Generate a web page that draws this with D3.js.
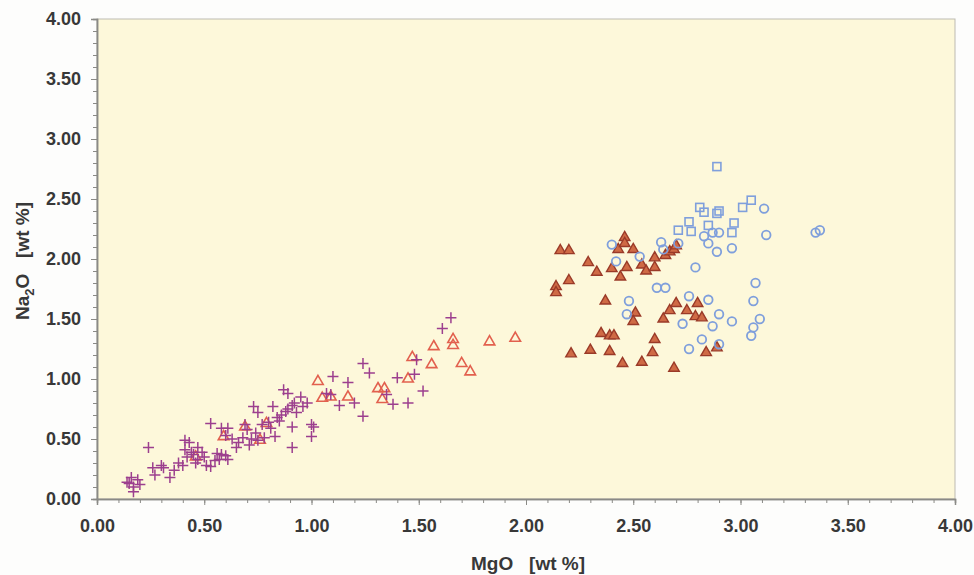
<!DOCTYPE html>
<html>
<head>
<meta charset="utf-8">
<script src="https://cdn.jsdelivr.net/npm/d3@7"></script>
<style>
  body { margin: 0; background: #fdfdfc; }
  svg { display: block; }
  text { font-family: "Liberation Sans", Arial, sans-serif; font-weight: bold; fill: #383838; white-space: pre; }
</style>
</head>
<body>
<div id="chart"></div>
<script>
// MgO / Na2O pairs [wt %]
var crosses = [
  [0.14,0.14],[0.17,0.10],[0.19,0.16],[0.16,0.18],[0.17,0.06],[0.20,0.12],[0.15,0.13],
  [0.24,0.43],[0.26,0.26],[0.27,0.20],[0.31,0.26],[0.34,0.18],[0.36,0.24],[0.40,0.28],
  [0.30,0.28],[0.38,0.30],[0.42,0.35],[0.44,0.39],[0.46,0.30],[0.50,0.35],
  [0.41,0.49],[0.41,0.41],[0.43,0.47],[0.45,0.37],[0.47,0.43],[0.47,0.33],[0.49,0.39],
  [0.51,0.28],[0.53,0.27],[0.53,0.63],[0.56,0.38],[0.57,0.33],[0.58,0.59],[0.60,0.53],
  [0.61,0.59],[0.61,0.33],[0.55,0.32],[0.58,0.37],[0.60,0.36],[0.63,0.50],[0.66,0.47],
  [0.65,0.43],[0.68,0.51],[0.69,0.62],[0.70,0.58],[0.71,0.45],[0.73,0.77],[0.75,0.72],
  [0.75,0.49],[0.78,0.51],[0.81,0.59],[0.82,0.77],[0.83,0.52],[0.84,0.68],[0.72,0.50],
  [0.74,0.55],[0.77,0.62],[0.80,0.64],[0.85,0.65],[0.86,0.70],[0.89,0.75],[0.92,0.80],
  [0.87,0.91],[0.88,0.73],[0.89,0.88],[0.91,0.78],[0.91,0.43],[0.91,0.60],[0.93,0.72],
  [0.95,0.85],[0.96,0.77],[0.98,0.80],[1.00,0.62],[1.00,0.52],[1.01,0.60],[1.07,0.88],
  [1.09,0.87],[1.10,1.02],[1.17,0.97],[1.24,1.13],[1.27,1.05],[1.20,0.80],[1.24,0.69],
  [1.13,0.78],[1.40,1.01],[1.48,1.04],[1.49,1.16],[1.52,0.90],[1.45,0.80],[1.35,0.87],
  [1.38,0.79],[1.65,1.51],[1.61,1.42]
];
var openTriangles = [
  [1.03,0.98],[1.09,0.85],[1.17,0.85],[0.79,0.63],[0.59,0.52],[0.76,0.49],[1.57,1.27],
  [1.66,1.33],[1.66,1.28],[1.83,1.31],[1.95,1.34],[1.47,1.18],[1.56,1.12],[1.70,1.13],
  [1.74,1.06],[1.45,1.00],[1.31,0.92],[1.34,0.92],[1.33,0.83],[1.05,0.84],[0.46,0.35],
  [0.69,0.60]
];
var filledTriangles = [
  [2.16,2.07],[2.20,2.07],[2.14,1.77],[2.14,1.72],[2.20,1.82],[2.29,1.97],[2.33,1.89],
  [2.37,1.65],[2.40,1.92],[2.43,2.08],[2.46,2.18],[2.46,2.13],[2.44,1.85],[2.47,1.93],
  [2.50,2.08],[2.54,1.95],[2.56,1.90],[2.60,2.01],[2.60,1.93],[2.65,2.03],[2.67,2.06],
  [2.69,2.08],[2.70,2.11],[2.35,1.38],[2.39,1.36],[2.41,1.36],[2.21,1.21],[2.30,1.24],
  [2.39,1.23],[2.45,1.13],[2.54,1.14],[2.59,1.22],[2.60,1.33],[2.69,1.09],[2.51,1.55],
  [2.50,1.48],[2.64,1.50],[2.67,1.57],[2.70,1.63],[2.75,1.57],[2.80,1.63],[2.79,1.52],
  [2.82,1.51],[2.84,1.22],[2.89,1.26]
];
var circles = [
  [2.40,2.12],[2.42,1.98],[2.53,2.02],[2.63,2.14],[2.64,2.08],[2.71,2.13],[2.79,1.93],
  [2.83,2.19],[2.85,2.13],[2.87,2.22],[2.90,2.22],[2.89,2.06],[2.96,2.09],[3.11,2.42],
  [3.12,2.20],[3.35,2.22],[3.37,2.24],[2.61,1.76],[2.65,1.76],[2.48,1.65],[2.47,1.54],
  [2.76,1.69],[2.85,1.66],[2.90,1.54],[2.73,1.46],[2.87,1.44],[2.96,1.48],[3.07,1.80],
  [3.06,1.65],[3.09,1.50],[3.06,1.43],[3.05,1.36],[2.82,1.33],[2.90,1.29],[2.76,1.25]
];
var squares = [
  [2.89,2.77],[2.81,2.43],[2.83,2.39],[2.89,2.38],[2.90,2.40],[3.01,2.43],[3.05,2.49],
  [2.76,2.31],[2.85,2.28],[2.97,2.30],[2.71,2.24],[2.77,2.23],[2.96,2.22]
];
var ticks = [0, 0.5, 1, 1.5, 2, 2.5, 3, 3.5, 4];

var W = 974, H = 575;
var margin = { top: 19, right: 19, bottom: 76, left: 97 };
var width = W - margin.left - margin.right;
var height = H - margin.top - margin.bottom;

var svg = d3.select("#chart").append("svg")
    .attr("width", W)
    .attr("height", H);

var g = svg.append("g")
    .attr("transform", "translate(" + margin.left + "," + margin.top + ")");

var x = d3.scaleLinear().domain([0, 4]).range([0, width]);
var y = d3.scaleLinear().domain([0, 4]).range([height, 0]);

// plot background
g.append("rect")
    .attr("width", width)
    .attr("height", height)
    .attr("fill", "#fdf8da")
    .attr("stroke", "#bdbbb2")
    .attr("stroke-width", 1);

// minor ticks every 0.1
var minor = d3.range(0, 41).map(function(i){ return i / 10; });

g.append("g")
    .attr("transform", "translate(0," + height + ")")
    .call(d3.axisBottom(x).tickValues(minor).tickSize(4).tickFormat(""));
g.append("g")
    .attr("transform", "translate(0," + height + ")")
    .call(d3.axisBottom(x).tickValues(ticks).tickSize(6).tickPadding(14)
        .tickFormat(d3.format(".2f")));

g.append("g")
    .call(d3.axisLeft(y).tickValues(minor).tickSize(4).tickFormat(""));
g.append("g")
    .call(d3.axisLeft(y).tickValues(ticks).tickSize(6).tickPadding(10)
        .tickFormat(d3.format(".2f")));

g.selectAll(".domain").attr("stroke", "#8a8a86").attr("stroke-width", 1.5);
g.selectAll(".tick line").attr("stroke", "#8a8a86");
g.selectAll(".tick text")
    .style("font-size", "18px")
    .style("font-family", "'Liberation Sans', Arial, sans-serif")
    .style("font-weight", "bold")
    .attr("fill", "#383838");

// axis titles
svg.append("text")
    .attr("x", margin.left + width / 2 + 2)
    .attr("y", 570)
    .attr("text-anchor", "middle")
    .style("font-size", "19px")
    .text("MgO   [wt %]");

var yt = svg.append("text")
    .attr("transform", "translate(29," + (margin.top + height / 2 + 2) + ") rotate(-90)")
    .attr("text-anchor", "middle")
    .style("font-size", "19px");
yt.append("tspan").text("Na");
yt.append("tspan").attr("dy", 5).style("font-size", "13px").text("2");
yt.append("tspan").attr("dy", -5).text("O   [wt %]");

var marks = g.append("g");

// open triangles (low MgO)
var tri = d3.symbol().type(d3.symbolTriangle).size(48);
marks.selectAll(".otri")
    .data(openTriangles)
    .enter().append("path")
    .attr("transform", function(d){ return "translate(" + x(d[0]) + "," + y(d[1]) + ")"; })
    .attr("d", tri)
    .attr("fill", "none")
    .attr("stroke", "#e2604e")
    .attr("stroke-width", 1.6);

// crosses
marks.selectAll(".cross")
    .data(crosses)
    .enter().append("path")
    .attr("transform", function(d){ return "translate(" + x(d[0]) + "," + y(d[1]) + ")"; })
    .attr("d", "M-5.5,0H5.5M0,-5.5V5.5")
    .attr("stroke", "#9c3f8e")
    .attr("stroke-width", 1.5);

// filled triangles
marks.selectAll(".ftri")
    .data(filledTriangles)
    .enter().append("path")
    .attr("transform", function(d){ return "translate(" + x(d[0]) + "," + y(d[1]) + ")"; })
    .attr("d", tri)
    .attr("fill", "#cf6a45")
    .attr("stroke", "#9a3a28")
    .attr("stroke-width", 1.4);

// open circles
marks.selectAll(".circ")
    .data(circles)
    .enter().append("circle")
    .attr("cx", function(d){ return x(d[0]); })
    .attr("cy", function(d){ return y(d[1]); })
    .attr("r", 4.3)
    .attr("fill", "none")
    .attr("stroke", "#7f9fdc")
    .attr("stroke-width", 1.8);

// open squares
marks.selectAll(".sq")
    .data(squares)
    .enter().append("rect")
    .attr("x", function(d){ return x(d[0]) - 4; })
    .attr("y", function(d){ return y(d[1]) - 4; })
    .attr("width", 8)
    .attr("height", 8)
    .attr("fill", "none")
    .attr("stroke", "#7f9fdc")
    .attr("stroke-width", 1.6);
</script>
</body>
</html>
